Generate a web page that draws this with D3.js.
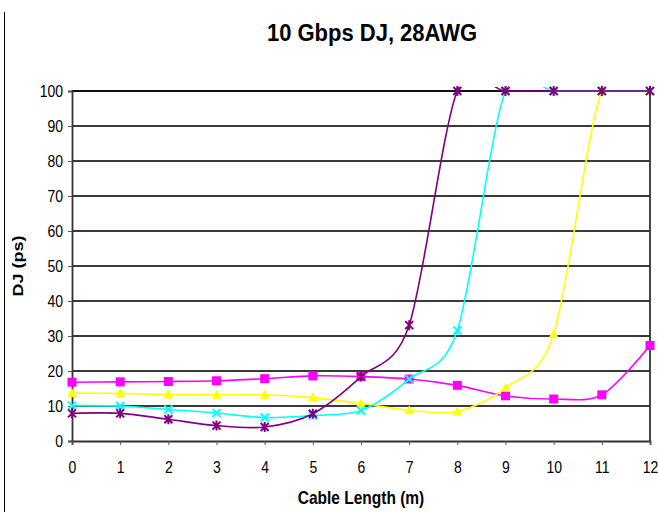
<!DOCTYPE html>
<html>
<head>
<meta charset="utf-8">
<script src="https://cdn.jsdelivr.net/npm/d3@7"></script>
<style>
  body { margin: 0; background: #fff; }
  text { font-family: "Liberation Sans", Arial, sans-serif; fill: #000; }
</style>
</head>
<body>
<div id="chart"></div>
<script>
// cable length in metres
const lengths = [0, 1, 2, 3, 4, 5, 6, 7, 8, 9, 10, 11, 12]
const yTicks = [0, 10, 20, 30, 40, 50, 60, 70, 80, 90, 100]

// DJ (ps) for each series
const magentaDJ = [16.8, 16.9, 17.0, 17.2, 17.8, 18.6, 18.4, 17.7, 15.9, 12.9, 12.0, 13.2, 27.3]
const yellowDJ = [13.7, 13.6, 13.3, 13.2, 13.2, 12.4, 10.7, 8.8, 8.4, 15.2, 30.6, 100, 100]
const cyanDJ = [10.1, 10.0, 9.0, 8.0, 6.7, 7.3, 8.7, 17.7, 31.6, 100, 100, 100, 100]
const purpleDJ = [7.9, 7.9, 6.2, 4.4, 4.0, 7.8, 18.4, 33.1, 100, 100, 100, 100, 100]

const series = [
  { name: 'magenta', color: '#ff00ff', marker: 'square', values: magentaDJ },
  { name: 'yellow', color: '#ffff00', marker: 'triangle', values: yellowDJ },
  { name: 'cyan', color: '#00ffff', marker: 'cross', values: cyanDJ },
  { name: 'purple', color: '#800080', marker: 'star', values: purpleDJ }
]

// the picture is a bit stretched vertically, text too
const stretch = 1.2

const margin = { top: 91, right: 8, bottom: 71, left: 72 }

const root = d3.select('#chart').append('svg')
    .attr('width', 658)
    .attr('height', 512)

// thin border line on the far left
root.append('line')
  .attr('x1', 4.5).attr('x2', 4.5)
  .attr('y1', 12).attr('y2', 512)
  .attr('stroke', '#000').attr('stroke-width', 1)

root.append('text')
  .attr('transform', 'translate(372,41) scale(1,1.1)')
  .attr('text-anchor', 'middle')
  .style('font-size', '22px')
  .style('font-weight', 'bold')
  .text('10 Gbps DJ, 28AWG')

const svg = root.append('g')
    .attr('transform', 'translate(' + margin.left + ',' + margin.top + ')')

const xPositionScale = d3.scaleLinear()
  .domain([0, 12])
  .range([0, 578])

const yPositionScale = d3.scaleLinear()
  .domain([0, 100])
  .range([350, 0])

// gridlines
svg.selectAll('.grid')
  .data(yTicks.filter(d => d > 0))
  .join('line')
  .attr('class', 'grid')
  .attr('x1', 0)
  .attr('x2', xPositionScale(12))
  .attr('y1', d => yPositionScale(d))
  .attr('y2', d => yPositionScale(d))
  .attr('stroke', d => d === 100 ? '#111' : '#3a3a3a')
  .attr('stroke-width', d => d === 100 ? 2.2 : 1.8)

// right border
svg.append('line')
  .attr('x1', xPositionScale(12)).attr('x2', xPositionScale(12))
  .attr('y1', yPositionScale(100)).attr('y2', yPositionScale(0))
  .attr('stroke', '#333').attr('stroke-width', 1.8)

const yAxis = d3.axisLeft(yPositionScale)
  .tickValues(yTicks)
  .tickSize(4)
svg.append('g')
  .attr('class', 'axis y-axis')
  .call(yAxis)

const xAxis = d3.axisBottom(xPositionScale)
  .tickValues(lengths)
  .tickFormat(d3.format('d'))
  .tickSize(4)
svg.append('g')
  .attr('class', 'axis x-axis')
  .attr('transform', 'translate(0,' + yPositionScale(0) + ')')
  .call(xAxis)

svg.selectAll('.axis path')
  .attr('stroke', '#333').attr('stroke-width', 1.8)
svg.selectAll('.axis line')
  .attr('stroke', '#555')
svg.selectAll('.axis text')
  .style('font-size', '14px')
  .style('font-family', '"Liberation Sans", Arial, sans-serif')
  .attr('fill', '#111')
  .attr('x', null).attr('y', null).attr('dy', null)

svg.selectAll('.y-axis text')
  .attr('transform', 'translate(-9,5.8) scale(1,' + stretch + ')')
svg.selectAll('.x-axis text')
  .attr('transform', 'translate(0,32) scale(1,' + stretch + ')')

// axis titles
svg.append('text')
  .attr('transform', 'translate(' + (-49) + ',' + (yPositionScale(50) - 91 + 91) + ') scale(1,' + stretch + ') rotate(-90)')
  .attr('text-anchor', 'middle')
  .style('font-size', '15px')
  .style('font-weight', 'bold')
  .text('DJ (ps)')

svg.append('text')
  .attr('transform', 'translate(' + xPositionScale(6) + ',413) scale(1,' + stretch + ')')
  .attr('text-anchor', 'middle')
  .style('font-size', '15.5px')
  .style('font-weight', 'bold')
  .text('Cable Length (m)')

// clip the smoothed lines a bit above the plot top
svg.append('clipPath')
  .attr('id', 'plot-clip')
  .append('rect')
  .attr('x', -2).attr('y', -4)
  .attr('width', xPositionScale(12) + 4)
  .attr('height', yPositionScale(0) + 8)

const line = d3.line()
  .x((d, i) => xPositionScale(lengths[i]))
  .y(d => yPositionScale(d))
  .curve(d3.curveCardinal.tension(0.1))

series.forEach(s => {
  const g = svg.append('g').attr('class', 'series-' + s.name)

  g.append('path')
    .datum(s.values)
    .attr('d', line)
    .attr('fill', 'none')
    .attr('stroke', s.color)
    .attr('stroke-width', 1.6)
    .attr('clip-path', 'url(#plot-clip)')

  const pts = g.selectAll('.pt')
    .data(s.values)
    .join('g')
    .attr('class', 'pt')
    .attr('transform', (d, i) => 'translate(' + xPositionScale(lengths[i]) + ',' + yPositionScale(d) + ')')

  if (s.marker === 'square') {
    pts.append('rect')
      .attr('x', -4.5).attr('y', -4.5)
      .attr('width', 9).attr('height', 9)
      .attr('fill', s.color)
  } else if (s.marker === 'triangle') {
    pts.append('path')
      .attr('d', 'M0,-5L5,4L-5,4Z')
      .attr('fill', s.color)
  } else if (s.marker === 'cross') {
    pts.append('path')
      .attr('d', 'M-4,-4L4,4M-4,4L4,-4')
      .attr('stroke', s.color)
      .attr('stroke-width', 2)
  } else {
    pts.append('path')
      .attr('d', 'M-4,-4L4,4M-4,4L4,-4M0,-5L0,5')
      .attr('stroke', s.color)
      .attr('stroke-width', 2)
  }
})
</script>
</body>
</html>
